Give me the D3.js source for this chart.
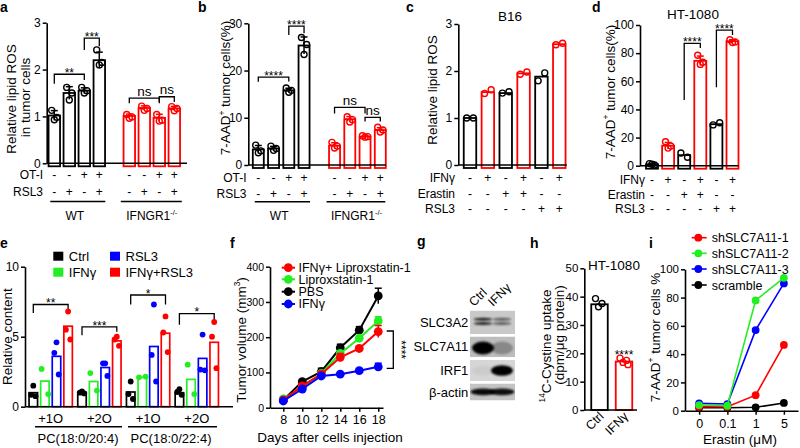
<!DOCTYPE html>
<html><head><meta charset="utf-8">
<script src="https://cdn.jsdelivr.net/npm/d3@7/dist/d3.min.js"></script>
<style>html,body{margin:0;padding:0;background:#fff;}svg{display:block;}</style>
</head><body>
<script>
// ================= DATA =================
// panel a
const aOTI   = ["-","-","+","+","-","-","+","+"];
const aRSL3  = ["-","+","-","+","-","+","-","+"];
const aMeans = [1.02,1.5,1.55,2.2,1.01,1.18,0.97,1.17];
const aPoints = [[1.13,0.98,0.93],[1.62,1.5,1.35],[1.62,1.55,1.5],[2.42,2.15,2.1],
                 [1.04,0.99,0.96],[1.22,1.17,1.13],[1.04,0.92,0.9],[1.21,1.17,1.12]];
const aTicks = [0,1,2,3];
const aSig = [[0,2,1.9,1.7,1.78,"**"],[2,3,2.67,2.42,2.5,"***"],[4,6,1.39,1.28,1.28,"ns"],[6,7,1.42,1.31,1.31,"ns"]];
// panel b
const bMeans = [3.3,3.5,15.8,25.3,4.1,9.7,6.0,7.4];
const bPoints = [[4.2,3.0,2.6],[4.0,3.5,3.1],[16.3,15.8,15.4],[27.0,25.5,23.4],
                 [4.8,4.0,3.6],[10.2,9.6,9.1],[6.2,6.0,5.9],[8.0,7.4,7.0]];
const bTicks = [0,10,20,30];
const bSig = [[0,2,18.6,17.6,17.7,"****"],[2,3,29.4,27.5,27.9,"****"],[4,6,12.2,10.9,10.9,"ns"],[6,7,10.1,9.2,9.2,"ns"]];
const abGroups = ["WT","IFNGR1"];
// panel c
const cdRows  = ["IFNγ","Erastin","RSL3"];
const cdSigns = [["-","+","-","+","-","+"],["-","-","+","+","-","-"],["-","-","-","-","+","+"]];
const cMeans  = [1.0,1.55,1.53,1.95,1.88,2.57];
const cPoints = [[1.0,1.0],[1.52,1.6],[1.53,1.56],[1.93,1.98],[1.79,1.96],[2.56,2.59]];
const cTicks  = [0,1,2,3];
// panel d
const dMeans  = [1.0,14.2,7.5,74.5,29.5,88.5];
const dPoints = [[1.5,0.5,1.0],[17,14,12.5],[9,6],[78.5,73.5,72],[29,30.5],[89.5,88,87.5]];
const dTicks  = [0,20,40,60,80,100];
const dSig = [[2,3,87,46.7,83.6,"****"],[4,5,96.4,55.7,92.9,"****"]];
// panel e
const eSeries = ["Ctrl","IFNγ","RSL3","IFNγ+RSL3"];
const eGroups = ["+1O","+2O","+1O","+2O"];
const eLipids = ["PC(18:0/20:4)","PC(18:0/22:4)"];
const eMeans = [[1.0,1.83,3.6,5.75],[1.02,1.8,2.8,4.7],[1.05,2.1,4.3,5.25],[1.0,1.95,3.45,4.6]];
const ePoints = [
  [[1.5,0.85,0.75],[2.7,0.9],[4.6,3.85,2.3],[6.8,5.5,4.8]],
  [[1.1,1.0,0.95],[2.4,1.15],[3.1,3.1,2.2],[5.0,4.8,4.35]],
  [[1.8,0.9,0.55],[2.1,2.15],[7.3,3.7,1.8],[6.45,5.3,3.9]],
  [[1.25,1.05,0.85],[3.0,0.9],[5.15,2.65,2.6],[6.05,5.0,2.75]]];
const eTicks = [0,5,10];
const eSig = [[0,7.3,6.7,7.0,"**"],[1,5.7,5.1,5.35,"***"],[2,7.98,7.3,7.3,"*"],[3,6.65,5.85,6.25,"*"]];
// panel f
const fDays = [8,10,12,14,16,18];
const fNames = ["IFNγ+ Liproxstatin-1","Liproxstatin-1","PBS","IFNγ"];
const fIFNLip = [22,62,95,143,168,216];
const fIFNLipErr = [3,4,5,11,6,17];
const fLip = [25,57,97,154,197,246];
const fLipErr = [3,4,6,6,5,12];
const fPBS = [22,74,102,170,220,317];
const fPBSErr = [3,5,10,10,10,22];
const fIFN = [19,53,90,95,105,116];
const fIFNErr = [3,4,4,4,5,10];
const fTicks = [0,100,200,300,400];
// panel g
const blotRows = ["SLC3A2","SLC7A11","IRF1","β-actin"];
const blotLanes = ["Ctrl","IFNγ"];
const blotLevels = [[0.85,0.55],[1.0,0.28],[0.04,1.0],[0.95,0.92]];
// panel h
const hCats = ["Ctrl","IFNγ"];
const hMeans = [37.3,17.1];
const hPoints = [[39.3,37.6,36.4],[18.3,17.5,16.8,16.0]];
const hTicks = [0,10,20,30,40,50];
// panel i
const iDoses = ["0","0.1","1","5"];
const iNames = ["shSLC7A11-1","shSLC7A11-2","shSLC7A11-3","scramble"];
const iSh1 = [2.8,2.8,11,46.5];
const iSh2 = [4.0,3.5,78,94];
const iSh3 = [5.2,4.7,57,90];
const iScr = [2.1,2.1,2.4,5.5];
const iTicks = [0,20,40,60,80,100];

// ================= HELPERS =================
const F = "'Liberation Sans', Arial, Helvetica, sans-serif";
const RED = "#ff0000", GREEN = "#22ee22", BLUE = "#0000ff", BLACK = "#000";
const svg = d3.select("body").append("svg").attr("width",800).attr("height",448);

function rich(e, parts, fs) {
  let up = false;
  parts.forEach(p => {
    const s = e.append("tspan");
    if (typeof p === "string") { s.text(p); if (up) { s.attr("dy", fs*0.4); up = false; } }
    else { s.text(p.sup).attr("font-size", fs*0.62).attr("dy", -fs*0.4); up = true; }
  });
}
function txt(x, y, t, o = {}) {
  const fs = o.fs || 12;
  const e = svg.append("text").attr("x",x).attr("y",y).attr("font-family",F)
    .attr("font-size",fs).attr("fill",o.fill||"#000").attr("text-anchor",o.anchor||"start");
  if (o.bold) e.attr("font-weight","bold");
  if (o.rot != null) e.attr("transform",`rotate(${o.rot},${x},${y})`);
  if (Array.isArray(t)) rich(e,t,fs); else e.text(t);
  return e;
}
function yAxis(x, y, ticks, fs = 12) {
  const g = svg.append("g").attr("transform",`translate(${x},0)`)
    .call(d3.axisLeft(y).tickValues(ticks).tickSize(4).tickSizeOuter(0).tickPadding(2).tickFormat(d3.format("d")));
  g.select(".domain").attr("stroke","#000").attr("stroke-width",1.6);
  g.selectAll(".tick line").attr("stroke","#000").attr("stroke-width",1.5);
  g.selectAll(".tick text").attr("font-family",F).attr("font-size",fs).attr("fill","#000");
}
function hLine(x1, x2, y, sw = 1.6) {
  svg.append("line").attr("x1",x1).attr("x2",x2).attr("y1",y).attr("y2",y).attr("stroke","#000").attr("stroke-width",sw);
}
function bars(centers, y, means, points, colors, bw, o = {}) {
  const g = svg.append("g"), y0 = y(0);
  const offs = o.offs || [-2.6, 2.6, 0, 1.2];
  means.forEach((m, i) => {
    const c = colors[i], cx = centers[i];
    g.append("rect").attr("x",cx-bw/2).attr("y",y(m)).attr("width",bw)
      .attr("height",y0-y(m)+(o.ext||0)).attr("fill","none").attr("stroke",c).attr("stroke-width",o.sw||1.8);
  });
  means.forEach((m, i) => {
    const c = colors[i], cx = centers[i], pts = points[i];
    if (o.sd && pts.length >= 3) {
      const sd = d3.deviation(pts);
      g.append("line").attr("x1",cx).attr("x2",cx).attr("y1",y(m+sd)).attr("y2",y(Math.max(0,m-sd))).attr("stroke",c).attr("stroke-width",1.5);
      g.append("line").attr("x1",cx-3.5).attr("x2",cx+3.5).attr("y1",y(m+sd)).attr("y2",y(m+sd)).attr("stroke",c).attr("stroke-width",1.5);
    }
    pts.forEach((p, j) => {
      const off = pts.length === 2 ? (j === 0 ? -3.3 : 3.3) : offs[j % offs.length];
      g.append("circle").attr("cx",cx+off).attr("cy",y(p)).attr("r",o.r||3)
        .attr("fill",o.filled ? c : "none").attr("stroke",c).attr("stroke-width",o.filled?0:1.4);
    });
  });
}
function bracket(x1, x2, yl, yL, yR, label, fs = 12) {
  svg.append("path").attr("d",`M${x1},${yL}V${yl}H${x2}V${yR}`).attr("fill","none").attr("stroke","#000").attr("stroke-width",1.3);
  const star = label.indexOf("*") >= 0;
  txt((x1+x2)/2, star ? yl+2.8 : yl-2.5, label, {anchor:"middle", fs: star ? fs : 13.5});
}

// ================= PANEL a =================
{
  const y = d3.scaleLinear().domain([0,3]).range([163.3,22.7]);
  const xs = d3.scaleLinear().domain([0,8]).range([54.3,174.3]);
  const slot = i => i < 4 ? i : i + 1;
  const cx = aMeans.map((d,i) => xs(slot(i)));
  const cols = aMeans.map((d,i) => i < 4 ? BLACK : RED);
  bars(cx, y, aMeans, aPoints, cols, 11.5, {sd:true, ext:3});
  hLine(46.7, 187, y(0));
  yAxis(46.7, y, aTicks);
  aSig.forEach(s => bracket(cx[s[0]], cx[s[1]], y(s[2]), y(s[3]), y(s[4]), s[5]));
  txt(43, 179, "OT-I", {anchor:"end"});
  txt(43, 196, "RSL3", {anchor:"end"});
  cx.forEach((c,i) => { txt(c, 179, aOTI[i], {anchor:"middle"}); txt(c, 196, aRSL3[i], {anchor:"middle"}); });
  hLine(cx[0]-4, cx[3]+6, 201.5, 1.4);
  hLine(cx[4]-8.5, cx[7]+7.5, 201.5, 1.4);
  txt((cx[0]+cx[3])/2-2, 219.5, abGroups[0], {anchor:"middle"});
  txt((cx[4]+cx[7])/2, 219.5, [abGroups[1], {sup:"-/-"}], {anchor:"middle"});
  txt(16, 99, "Relative lipid ROS", {anchor:"middle", fs:13.5, rot:-90});
  txt(30, 97.5, "in tumor cells", {anchor:"middle", fs:13.5, rot:-90});
  txt(0, 11.5, "a", {bold:true, fs:14});
}
// ================= PANEL b =================
{
  const y = d3.scaleLinear().domain([0,30]).range([165,23.3]);
  const xs = d3.scaleLinear().domain([0,8]).range([258.3,380.3]);
  const slot = i => i < 4 ? i : i + 1;
  const cx = bMeans.map((d,i) => xs(slot(i)));
  const cols = bMeans.map((d,i) => i < 4 ? BLACK : RED);
  bars(cx, y, bMeans, bPoints, cols, 11, {sd:true, ext:3});
  hLine(248.3, 386, y(0));
  yAxis(248.3, y, bTicks);
  bSig.forEach(s => bracket(cx[s[0]], cx[s[1]], y(s[2]), y(s[3]), y(s[4]), s[5]));
  txt(246.5, 181.5, "OT-I", {anchor:"end"});
  txt(246.5, 197.5, "RSL3", {anchor:"end"});
  cx.forEach((c,i) => { txt(c, 181.5, aOTI[i], {anchor:"middle"}); txt(c, 197.5, aRSL3[i], {anchor:"middle"}); });
  hLine(cx[0]-3.5, cx[3]+6, 201.7, 1.4);
  hLine(cx[4]-8, cx[7]+5, 201.7, 1.4);
  txt((cx[0]+cx[3])/2-2, 220, abGroups[0], {anchor:"middle"});
  txt((cx[4]+cx[7])/2-1, 220, [abGroups[1], {sup:"-/-"}], {anchor:"middle"});
  txt(230, 88, ["7-AAD", {sup:"+"}, " tumor cells(%)"], {anchor:"middle", fs:13.5, rot:-90});
  txt(198, 11.7, "b", {bold:true, fs:14});
}
// ================= PANEL c =================
{
  const y = d3.scaleLinear().domain([0,3]).range([165,24]);
  const xs = d3.scaleLinear().domain([0,5]).range([470,559.3]);
  const cx = cMeans.map((d,i) => xs(i));
  const cols = cMeans.map((d,i) => i % 2 ? RED : BLACK);
  bars(cx, y, cMeans, cPoints, cols, 12.5, {ext:3});
  hLine(458.3, 566.7, y(0));
  yAxis(458.3, y, cTicks);
  const rowsY = [181.5, 197.5, 212.5];
  cdRows.forEach((r,k) => {
    txt(455, rowsY[k], r, {anchor:"end"});
    cx.forEach((c,i) => txt(c, rowsY[k], cdSigns[k][i], {anchor:"middle"}));
  });
  txt(510, 20.5, "B16", {anchor:"middle", fs:13.5});
  txt(436.5, 90, "Relative lipid ROS", {anchor:"middle", fs:13.5, rot:-90});
  txt(406, 12, "c", {bold:true, fs:14});
}
// ================= PANEL d =================
{
  const y = d3.scaleLinear().domain([0,100]).range([165.7,25]);
  const xs = d3.scaleLinear().domain([0,5]).range([652,732.5]);
  const cx = dMeans.map((d,i) => xs(i));
  const cols = dMeans.map((d,i) => i % 2 ? RED : BLACK);
  bars(cx, y, dMeans, dPoints, cols, 12, {sd:true, ext:3});
  hLine(640, 738.5, y(0));
  yAxis(640, y, dTicks);
  dSig.forEach(s => bracket(cx[s[0]], cx[s[1]], y(s[2]), y(s[3]), y(s[4]), s[5]));
  const rowsY = [183.5, 198.5, 213];
  cdRows.forEach((r,k) => {
    txt(645, rowsY[k], r, {anchor:"end"});
    cx.forEach((c,i) => txt(c, rowsY[k], cdSigns[k][i], {anchor:"middle"}));
  });
  txt(693, 18.5, "HT-1080", {anchor:"middle", fs:13.5});
  txt(614.5, 92, ["7-AAD", {sup:"+"}, " tumor cells(%)"], {anchor:"middle", fs:13.5, rot:-90});
  txt(592, 11.5, "d", {bold:true, fs:14});
}
// ================= PANEL e =================
{
  const y = d3.scaleLinear().domain([0,10]).range([406.7,266.7]);
  const xg = d3.scalePoint().domain(d3.range(eGroups.length)).range([50.7,196.8]);
  const xk = d3.scalePoint().domain(d3.range(eSeries.length)).range([-17.4,17.4]);
  const sCols = [BLACK, GREEN, BLUE, RED];
  eMeans.forEach((gm, g) => {
    const cx = gm.map((d,k) => xg(g) + xk(k));
    bars(cx, y, gm, ePoints[g], sCols, 8.5, {filled:true, r:2.9, sw:1.7, offs:[0,-2.2,2.2]});
  });
  hLine(25, 233, y(0));
  yAxis(25, y, eTicks);
  eSig.forEach(s => bracket(xg(s[0])+xk(0), xg(s[0])+xk(3), y(s[1]), y(s[2]), y(s[3]), s[4]));
  eGroups.forEach((t,g) => txt(xg(g), 423, t, {anchor:"middle", fs:13}));
  hLine(35, 122, 426.7, 1.4);
  hLine(128, 217, 426.7, 1.4);
  txt(78, 443, eLipids[0], {anchor:"middle", fs:13});
  txt(171, 443, eLipids[1], {anchor:"middle", fs:13});
  const lg = [[53.3,251.7],[110,251.7],[53.3,267.7],[110,267.7]];
  const lOrder = [0,2,1,3];
  lOrder.forEach((k,j) => {
    svg.append("rect").attr("x",lg[j][0]).attr("y",lg[j][1]).attr("width",10).attr("height",9).attr("fill",sCols[k]);
    txt(lg[j][0]+15.5, lg[j][1]+9, eSeries[k], {fs:13});
  });
  txt(12, 336.7, "Relative content", {anchor:"middle", fs:13.5, rot:-90});
  txt(0, 248.3, "e", {bold:true, fs:14});
}
// ================= PANEL f =================
{
  const y = d3.scaleLinear().domain([0,400]).range([407.7,266.7]);
  const x = d3.scaleLinear().domain([6.6,18.5]).range([270,383]);
  const gx = svg.append("g").attr("transform",`translate(0,${y(0)})`)
    .call(d3.axisBottom(x).tickValues(fDays).tickSize(4).tickSizeOuter(0).tickPadding(3));
  gx.select(".domain").attr("stroke","#000").attr("stroke-width",1.6);
  gx.selectAll(".tick line").attr("stroke","#000").attr("stroke-width",1.5);
  gx.selectAll(".tick text").attr("font-family",F).attr("font-size",12.5).attr("fill","#000");
  yAxis(270, y, fTicks, 10.5);
  const series = [[fPBS,fPBSErr,BLACK],[fLip,fLipErr,GREEN],[fIFNLip,fIFNLipErr,RED],[fIFN,fIFNErr,BLUE]];
  const line = d3.line().x((d,i) => x(fDays[i])).y(d => y(d));
  series.forEach(([v,e,c]) => {
    svg.append("path").attr("d",line(v)).attr("fill","none").attr("stroke",c).attr("stroke-width",2);
    v.forEach((d,i) => {
      const xx = x(fDays[i]);
      svg.append("line").attr("x1",xx).attr("x2",xx).attr("y1",y(d+e[i])).attr("y2",y(d-e[i])).attr("stroke",c).attr("stroke-width",1.5);
      svg.append("line").attr("x1",xx-3.5).attr("x2",xx+3.5).attr("y1",y(d+e[i])).attr("y2",y(d+e[i])).attr("stroke",c).attr("stroke-width",1.5);
      svg.append("circle").attr("cx",xx).attr("cy",y(d)).attr("r",4.4).attr("fill",c);
    });
  });
  const lc = [RED, GREEN, BLACK, BLUE], ly = [267.7,279.3,291.7,304];
  fNames.forEach((n,k) => {
    svg.append("line").attr("x1",281.7).attr("x2",295).attr("y1",ly[k]).attr("y2",ly[k]).attr("stroke",lc[k]).attr("stroke-width",2);
    svg.append("circle").attr("cx",288.3).attr("cy",ly[k]).attr("r",4.4).attr("fill",lc[k]);
    txt(298.5, ly[k]+4.4, n, {fs:12.5});
  });
  // significance
  const bx = 393.3, yt = y(217.6), yb = y(111.8);
  svg.append("path").attr("d",`M${bx-6.6},${yt}H${bx}V${yb}H${bx-6.6}`).attr("fill","none").attr("stroke","#000").attr("stroke-width",1.3);
  txt(396.5, (yt+yb)/2, "****", {anchor:"middle", fs:12, rot:90});
  txt(330, 441.5, "Days after cells injection", {anchor:"middle", fs:13.5});
  txt(245.5, 340, ["Tumor volume (mm", {sup:"3"}, ")"], {anchor:"middle", fs:13.5, rot:-90});
  txt(230, 248.3, "f", {bold:true, fs:14});
}
// ================= PANEL g =================
{
  const defs = svg.append("defs");
  defs.append("filter").attr("id","blur").attr("x","-50%").attr("y","-50%").attr("width","200%").attr("height","200%")
    .append("feGaussianBlur").attr("stdDeviation",1.3);
  const rowTop = [310.5, 336.5, 360, 383.5], rowH = [23.5, 20.5, 21, 17];
  const bg = ["#c9c9c9","#bdbdbd","#d6d6d6","#c4c4c4"];
  const laneX = d3.scalePoint().domain(blotLanes).range([483,502]);
  blotRows.forEach((r,i) => {
    const cp = defs.append("clipPath").attr("id","clip"+i);
    cp.append("rect").attr("x",470).attr("y",rowTop[i]).attr("width",45).attr("height",rowH[i]);
    const g = svg.append("g").attr("clip-path",`url(#clip${i})`);
    g.append("rect").attr("x",470).attr("y",rowTop[i]).attr("width",45).attr("height",rowH[i]).attr("fill",bg[i]);
    blotLanes.forEach((l,j) => {
      const lv = blotLevels[i][j], cx = laneX(l);
      const add = (cy, rx, ry, blur) => g.append("ellipse").attr("cx",cx).attr("cy",cy).attr("rx",rx).attr("ry",ry)
        .attr("fill","#000").attr("opacity",lv).attr("filter",blur?"url(#blur)":null);
      if (i === 0) { add(rowTop[i]+8.8, 9.5, 1.5, true); add(rowTop[i]+13, 9.5, 1.5, true); }
      else if (i === 1) add(rowTop[i]+11.5, 11, 6.5, true);
      else if (i === 2) add(rowTop[i]+10.5, 11, 5.3, true);
      else add(rowTop[i]+8.3, 12.5, 3.4, true);
    });
    txt(468.3, rowTop[i]+rowH[i]/2+4.5, r, {anchor:"end", fs:13});
  });
  blotLanes.forEach((l,j) => txt(laneX(l)-9, 307, l, {fs:12.5, rot:-45}));
  txt(417, 246, "g", {bold:true, fs:14});
}
// ================= PANEL h =================
{
  const y = d3.scaleLinear().domain([0,50]).range([410,268.3]);
  const x = d3.scalePoint().domain(hCats).range([599.5,624]);
  const cx = hCats.map(c => x(c));
  bars(cx, y, hMeans, hPoints, [BLACK, RED], 16.5, {ext:0, offs:[-4,2.5,-1,4]});
  hLine(584.3, 637, y(0));
  yAxis(584.3, y, hTicks, 11.5);
  txt(cx[1], y(19)+3, "****", {anchor:"middle", fs:12});
  hCats.forEach((c,i) => txt(cx[i]+5, 417, c, {anchor:"end", fs:12.5, rot:-45}));
  txt(614, 270, "HT-1080", {anchor:"middle", fs:13.5});
  txt(550.5, 346, [{sup:"14"}, "C-Cystine uptake"], {anchor:"middle", fs:13.5, rot:-90});
  txt(563.5, 335, "(dpm/μg protein)", {anchor:"middle", fs:13.5, rot:-90});
  txt(530, 248.3, "h", {bold:true, fs:14});
}
// ================= PANEL i =================
{
  const y = d3.scaleLinear().domain([0,100]).range([410.7,269.3]);
  const x = d3.scalePoint().domain(iDoses).range([685,798]).padding(0.5);
  const gx = svg.append("g").attr("transform",`translate(0,${y(0)})`)
    .call(d3.axisBottom(x).tickSize(4).tickSizeOuter(0).tickPadding(4.5));
  gx.select(".domain").attr("stroke","#000").attr("stroke-width",1.6);
  gx.selectAll(".tick line").attr("stroke","#000").attr("stroke-width",1.5);
  gx.selectAll(".tick text").attr("font-family",F).attr("font-size",12.5).attr("fill","#000");
  yAxis(685, y, iTicks, 11.5);
  const series = [[iScr,BLACK],[iSh1,RED],[iSh3,BLUE],[iSh2,GREEN]];
  const line = d3.line().x((d,i) => x(iDoses[i])).y(d => y(d));
  series.forEach(([v,c]) => {
    svg.append("path").attr("d",line(v)).attr("fill","none").attr("stroke",c).attr("stroke-width",1.6);
    v.forEach((d,i) => svg.append("circle").attr("cx",x(iDoses[i])).attr("cy",y(d)).attr("r",3.9).attr("fill",c));
  });
  const lc = [RED, GREEN, BLUE, BLACK], ly = [237.7,253.3,269,285];
  iNames.forEach((n,k) => {
    svg.append("line").attr("x1",691.7).attr("x2",706.7).attr("y1",ly[k]).attr("y2",ly[k]).attr("stroke",lc[k]).attr("stroke-width",1.6);
    svg.append("circle").attr("cx",698.3).attr("cy",ly[k]).attr("r",3.9).attr("fill",lc[k]);
    txt(711.7, ly[k]+4.6, n, {fs:12.5});
  });
  txt(740, 443.5, "Erastin (μM)", {anchor:"middle", fs:13.5});
  txt(659.5, 337.5, ["7-AAD", {sup:"+"}, " tumor cells %"], {anchor:"middle", fs:13.5, rot:-90});
  txt(649, 248.3, "i", {bold:true, fs:14});
}
</script>
</body></html>
